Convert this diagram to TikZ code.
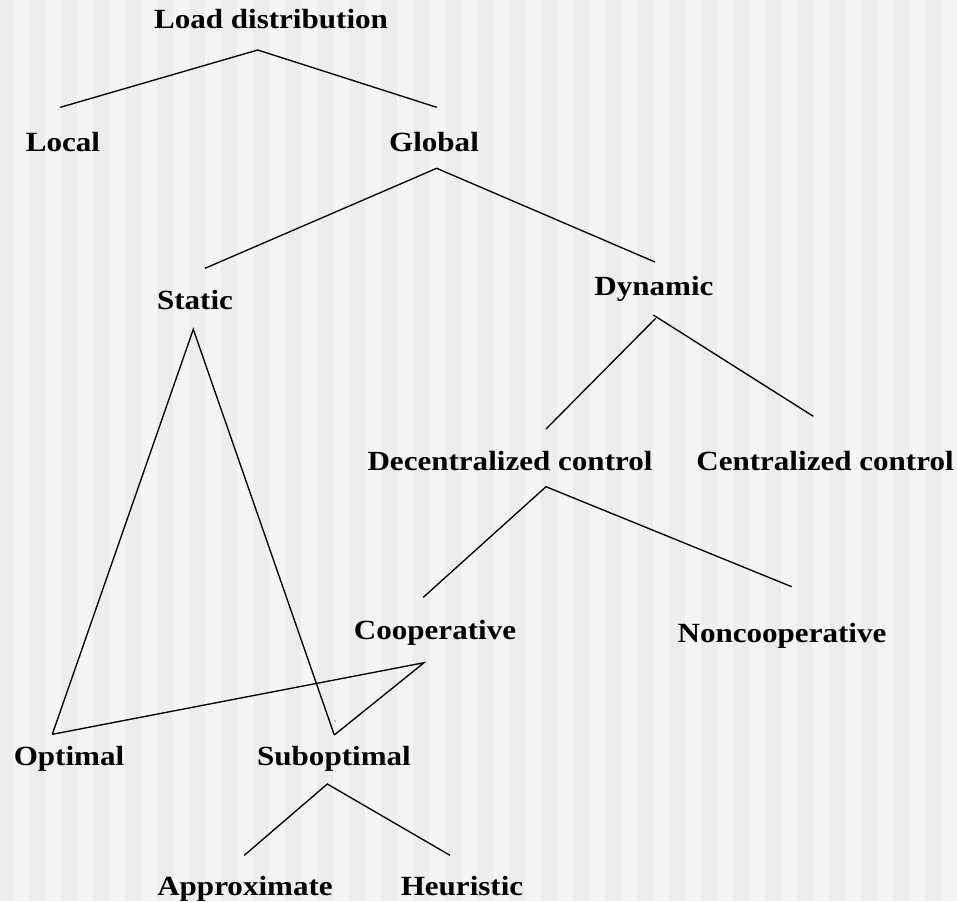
\documentclass[tikz,border=0pt]{standalone}
\usepackage{fontspec}
\setmainfont[FakeStretch=1.12]{Liberation Serif}
\definecolor{bglight}{HTML}{F5F5F5}
\definecolor{bgdark}{HTML}{EDEDED}
\begin{document}
\begin{tikzpicture}[x=0.75pt,y=-0.75pt,
  lbl/.style={anchor=base,inner sep=0pt,font=\fontsize{20.8}{25}\selectfont\bfseries},
  edge/.style={line width=1pt,black}]
\useasboundingbox (0,0) rectangle (957,901);
\begin{scope}
\clip (0,0) rectangle (957,901);
\fill[bglight] (0,0) rectangle (957,901);
\foreach \k in {0,...,30}{
  \fill[bgdark] ({-3+32*\k},0) rectangle ({13+32*\k},901);
}
\end{scope}
% labels
\node[lbl] (load) at (271,28.5) {Load distribution};
\node[lbl] (local) at (63,151) {Local};
\node[lbl] (global) at (434,151) {Global};
\node[lbl] (static) at (195,309) {Static};
\node[lbl] (dynamic) at (654,295) {Dynamic};
\node[lbl] (decent) at (510,470) {Decentralized control};
\node[lbl] (cent) at (825,470) {Centralized control};
\node[lbl] (coop) at (435,639) {Cooperative};
\node[lbl] (noncoop) at (782,642) {Noncooperative};
\node[lbl] (optimal) at (69,765) {Optimal};
\node[lbl] (subopt) at (334,765) {Suboptimal};
\node[lbl] (approx) at (245,895) {Approximate};
\node[lbl] (heur) at (462,895) {Heuristic};
% connector end points
\coordinate (load-b) at (257.7,50);
\coordinate (local-t) at (60.3,107.3);
\coordinate (global-t) at (436.7,107.3);
\coordinate (global-b) at (436.7,168.3);
\coordinate (static-t) at (205,268.3);
\coordinate (dynamic-t) at (655,262);
\coordinate (dynamic-b1) at (655.7,318.3);
\coordinate (dynamic-b2) at (653.3,315);
\coordinate (decent-t) at (546,429);
\coordinate (cent-t) at (813.3,416.3);
\coordinate (decent-b) at (546,486.7);
\coordinate (coop-t) at (423.3,597.3);
\coordinate (noncoop-t) at (791.7,586.7);
\coordinate (static-b) at (193.3,329.3);
\coordinate (optimal-t) at (52.3,734.3);
\coordinate (subopt-t) at (334.3,735);
\coordinate (coop-b) at (424,662.7);
\coordinate (subopt-b) at (327.3,784);
\coordinate (approx-t) at (244.3,855.3);
\coordinate (heur-t) at (450,855.3);
% connectors
\draw[edge] (local-t) -- (load-b) -- (global-t);
\draw[edge] (static-t) -- (global-b) -- (dynamic-t);
\draw[edge] (decent-t) -- (dynamic-b1);
\draw[edge] (dynamic-b2) -- (cent-t);
\draw[edge] (coop-t) -- (decent-b) -- (noncoop-t);
\draw[edge] (optimal-t) -- (static-b) -- (subopt-t);
\draw[edge] (optimal-t) -- (coop-b) -- (subopt-t);
\draw[edge] (approx-t) -- (subopt-b) -- (heur-t);
\fill (335,721) circle (0.7);
\end{tikzpicture}
\end{document}
